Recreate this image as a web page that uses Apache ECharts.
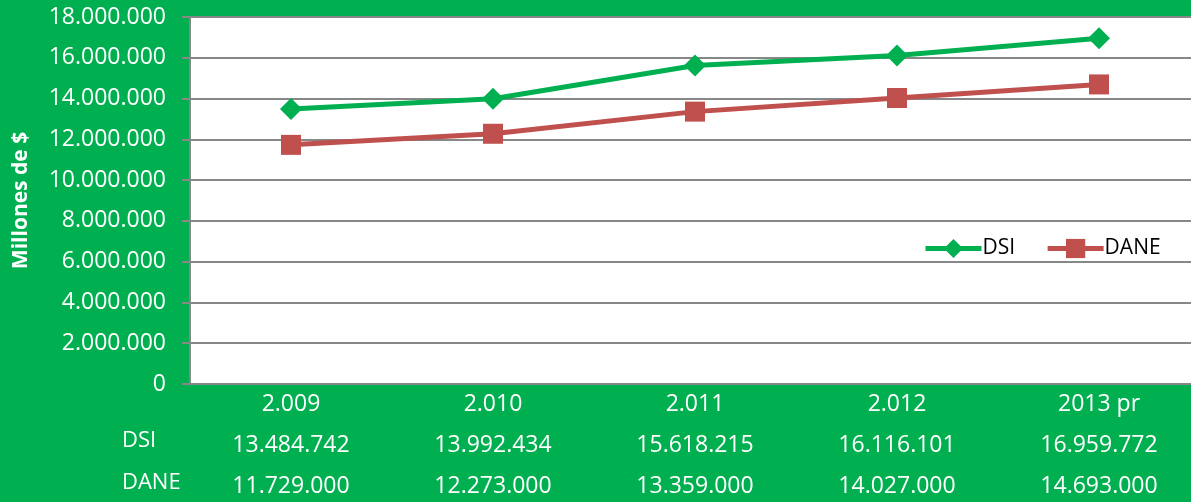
<!DOCTYPE html>
<html>
<head>
<meta charset="utf-8">
<script src="https://cdn.jsdelivr.net/npm/echarts@6/dist/echarts.min.js"></script>
<style>
  html, body { margin: 0; padding: 0; background: #00B050; }
  #chart { width: 1191px; height: 502px; }
</style>
</head>
<body>
<div id="chart"></div>
<script>
// datos
var years = ['2.009', '2.010', '2.011', '2.012', '2013 pr']
var dsi = [13484742, 13992434, 15618215, 16116101, 16959772]
var dane = [11729000, 12273000, 13359000, 14027000, 14693000]

function puntos (n) {
  return String(n).replace(/\B(?=(\d{3})+(?!\d))/g, '.')
}

var font = 'Open Sans'
var gris = '#878787'

var chart = echarts.init(document.getElementById('chart'))
chart.setOption({
  backgroundColor: '#00B050',
  textStyle: { fontFamily: font },
  grid: {
    left: 190,
    right: -9,
    top: 17,
    bottom: 118,
    outerBoundsMode: 'none',
    containLabel: false,
    show: true,
    backgroundColor: '#ffffff',
    borderWidth: 0
  },
  legend: {
    left: 918,
    top: 233,
    itemWidth: 56,
    itemHeight: 24,
    itemGap: 30,
    lineStyle: { width: 5 },
    textStyle: { color: '#000', fontSize: 21, fontFamily: font, padding: [0, 0, 0, -4] },
    data: ['DSI', 'DANE']
  },
  graphic: [
    { type: 'text', left: 122, top: 430, style: { text: 'DSI', fill: '#fff', fontSize: 22, fontFamily: font } },
    { type: 'text', left: 122, top: 472, style: { text: 'DANE', fill: '#fff', fontSize: 22, fontFamily: font } }
  ],
  xAxis: {
    type: 'category',
    data: years,
    axisLine: { lineStyle: { color: gris, width: 2 } },
    axisTick: { show: false },
    axisLabel: {
      color: '#fff',
      fontSize: 23,
      lineHeight: 41,
      margin: 0,
      formatter: function (v, i) {
        return v + '\n' + puntos(dsi[i]) + '\n' + puntos(dane[i])
      }
    }
  },
  yAxis: {
    type: 'value',
    min: 0,
    max: 18000000,
    interval: 2000000,
    name: 'Millones de $',
    nameLocation: 'middle',
    nameRotate: 90,
    nameGap: 158,
    nameTextStyle: { color: '#fff', fontSize: 21, fontWeight: 'bold', fontFamily: font },
    axisLine: { show: true, lineStyle: { color: gris, width: 2 } },
    axisTick: { show: true, length: 8, lineStyle: { color: gris, width: 2 } },
    axisLabel: {
      color: '#fff',
      fontSize: 23,
      margin: 24,
      formatter: function (v) { return puntos(v) }
    },
    splitLine: { lineStyle: { color: gris, width: 2 } }
  },
  series: [
    {
      name: 'DSI',
      type: 'line',
      data: dsi,
      symbol: 'diamond',
      symbolSize: 22,
      color: '#00B050',
      lineStyle: { width: 5, color: '#00B050' },
      itemStyle: { color: '#00B050' }
    },
    {
      name: 'DANE',
      type: 'line',
      data: dane,
      symbol: 'rect',
      symbolSize: 20,
      color: '#C0504D',
      lineStyle: { width: 5, color: '#C0504D' },
      itemStyle: { color: '#C0504D' }
    }
  ]
})
</script>
</body>
</html>
